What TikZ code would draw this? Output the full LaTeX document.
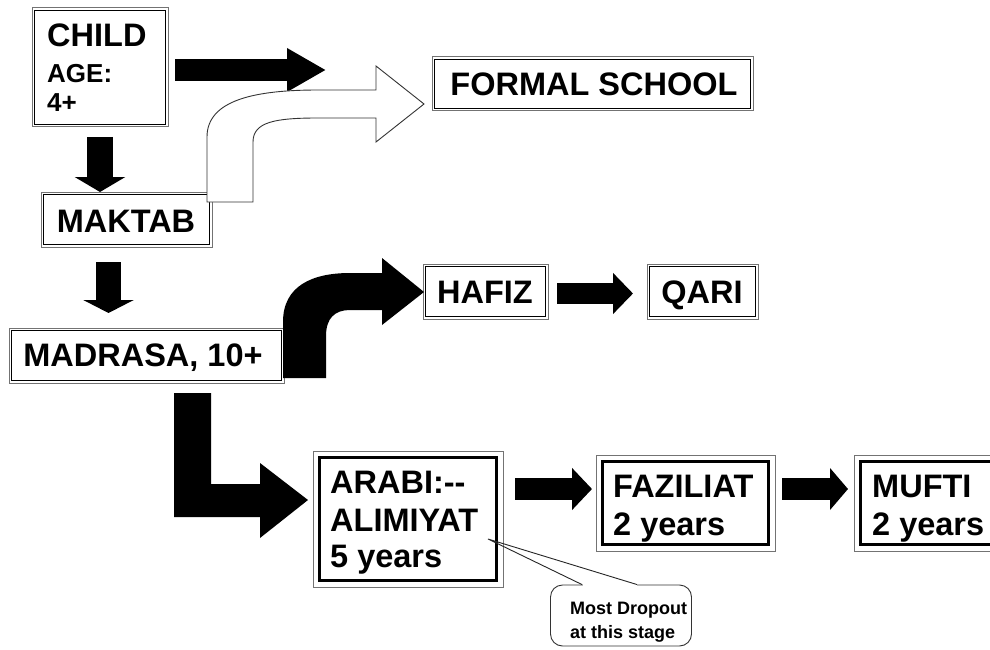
\documentclass[tikz,border=0pt]{standalone}
\usepackage{fontspec}
\setmainfont{Liberation Sans}
\usetikzlibrary{arrows.meta,calc}

\newcommand{\thinframe}[1]{\draw[line width=1.2pt] ([shift={(2.6pt,-2.6pt)}]#1.north west) rectangle ([shift={(-2.6pt,2.6pt)}]#1.south east);}
\newcommand{\thickframe}[1]{\draw[line width=3.5pt] ([shift={(6.5pt,-6.5pt)}]#1.north west) rectangle ([shift={(-6.5pt,6.5pt)}]#1.south east);}

\tikzset{
  box/.style={draw=black!55, line width=1pt, inner sep=0pt, outer sep=0pt, fill=white},
  big/.style={font=\fontsize{32.5}{36}\selectfont\bfseries, inner sep=0pt, anchor=base},
  mid/.style={font=\fontsize{26}{30}\selectfont\bfseries, inner sep=0pt, anchor=base west},
  small/.style={font=\fontsize{18}{21}\selectfont\bfseries, inner sep=0pt, anchor=base west},
  blockarrow/.style={draw=black, line width=#1},
}

\begin{document}
\begin{tikzpicture}[x=1pt,y=-1pt]
\useasboundingbox (0,0) rectangle (990,650);
\fill[white] (0,0) rectangle (990,650);
\clip (0,0) rectangle (990,650);

% ---------- boxes ----------
\node[box, minimum width=136pt, minimum height=119pt] (child) at (100,67.5) {};
\thinframe{child}
\node[big, anchor=base west] (childa) at (47,47) {CHILD};
\node[mid] (childb) at (47,83) {AGE:};
\node[mid] (childc) at (47,112) {4+};

\node[box, minimum width=171pt, minimum height=55pt] (maktab) at (126.5,219.5) {};
\thinframe{maktab}
\node[big] (maktabt) at (126,232) {MAKTAB};

\node[box, minimum width=321pt, minimum height=54pt] (formal) at (592.5,84) {};
\thinframe{formal}
\node[big] (formalt) at (594,96) {FORMAL SCHOOL};

\node[box, minimum width=275pt, minimum height=55pt] (madrasa) at (146.5,355.5) {};
\thinframe{madrasa}
\node[big] (madrasat) at (143,366) {MADRASA, 10+};

\node[box, minimum width=125pt, minimum height=55pt] (hafiz) at (485.5,291.5) {};
\thinframe{hafiz}
\node[big] (hafizt) at (485,303) {HAFIZ};

\node[box, minimum width=111pt, minimum height=55pt] (qari) at (702.5,291.5) {};
\thinframe{qari}
\node[big] (qarit) at (702,303) {QARI};

\node[box, minimum width=190pt, minimum height=136pt] (arabi) at (408,519) {};
\thickframe{arabi}
\node[big, anchor=base west] (arabia) at (330,493) {ARABI:-{}-};
\node[big, anchor=base west] (arabib) at (330,531) {ALIMIYAT};
\node[big, anchor=base west] (arabic) at (330,567) {5 years};

\node[box, minimum width=179pt, minimum height=96pt] (faziliat) at (685.5,503) {};
\thickframe{faziliat}
\node[big, anchor=base west] (fazilia) at (613,497) {FAZILIAT};
\node[big, anchor=base west] (fazilib) at (613,535) {2 years};

\node[box, minimum width=156pt, minimum height=96pt] (mufti) at (932,503) {};
\thickframe{mufti}
\node[big, anchor=base west] (muftia) at (872,497) {MUFTI};
\node[big, anchor=base west] (muftib) at (872,535) {2 years};

% ---------- straight block arrows ----------
\coordinate (aend) at (326,70);
\draw[blockarrow=22pt, -{Triangle[length=39pt,width=41pt]}]
  ($(child.east)+(7pt,-2.5pt)$) -- (aend);
\draw[blockarrow=26pt, -{Triangle[length=15pt,width=50pt]}]
  ($(child.south)+(0,-10pt)$) -- (child.south |- maktab.north);
\draw[blockarrow=25pt, -{Triangle[length=13pt,width=50pt]}]
  ($(maktab.south)+(-18pt,-15pt)$) -- ($(maktab.south |- madrasa.north)+(-18pt,15pt)$);
\draw[blockarrow=21pt, -{Triangle[length=20pt,width=40pt]}]
  ($(hafiz.east)+(9pt,-2pt)$) -- ($(qari.west)+(-14pt,-2pt)$);
\draw[blockarrow=22pt, -{Triangle[length=20pt,width=41pt]}]
  ($(arabi.east |- faziliat.west)+(12pt,14pt)$) -- ($(faziliat.west)+(-4pt,14pt)$);
\draw[blockarrow=22pt, -{Triangle[length=18pt,width=41pt]}]
  ($(faziliat.east)+(7pt,14pt)$) -- ($(mufti.west)+(-6pt,14pt)$);

% ---------- curved / bent block arrows ----------
% white: MAKTAB -> FORMAL SCHOOL
\draw[fill=white, draw=black!80, line width=0.9pt]
  (207,202) -- (207,137) .. controls (207,100) and (255,90) .. (318,90)
  -- (376,90) -- (376,66) -- (424,104) -- (376,142) -- (376,118) -- (318,118)
  .. controls (275,118) and (253,122) .. (253,142) -- (253,202) -- cycle;
% black: MADRASA -> HAFIZ
\fill[black]
  (283,378) -- (283,322) .. controls (283,286) and (312,273) .. (350,273)
  -- (382,273) -- (382,258) -- (424,292) -- (382,325) -- (382,310) -- (350,310)
  .. controls (335,310) and (326,318) .. (326,336) -- (326,378) -- cycle;
% black L: MADRASA -> ARABI
\fill[black]
  (174,393) -- (211,393) -- (211,484) -- (260,484) -- (260,463) -- (308,500)
  -- (260,538) -- (260,517) -- (174,517) -- cycle;

% ---------- callout ----------
\node[draw=black!80, line width=0.9pt, rounded corners=12pt, fill=white,
      minimum width=141pt, minimum height=61pt, inner sep=0pt] (drop) at (621,615.5) {};
\coordinate (droptip) at (488,539);
\draw[white, line width=2.5pt] ($(drop.north)+(-38.5pt,0)$) -- ($(drop.north)+(15.5pt,0)$);
\draw[black!85, line width=0.9pt] ($(drop.north)+(-39pt,0)$) -- (droptip) -- ($(drop.north)+(16pt,0)$);
\node[small] (dropa) at (570,614) {Most Dropout};
\node[small] (dropb) at (570,638) {at this stage};
\end{tikzpicture}
\end{document}
